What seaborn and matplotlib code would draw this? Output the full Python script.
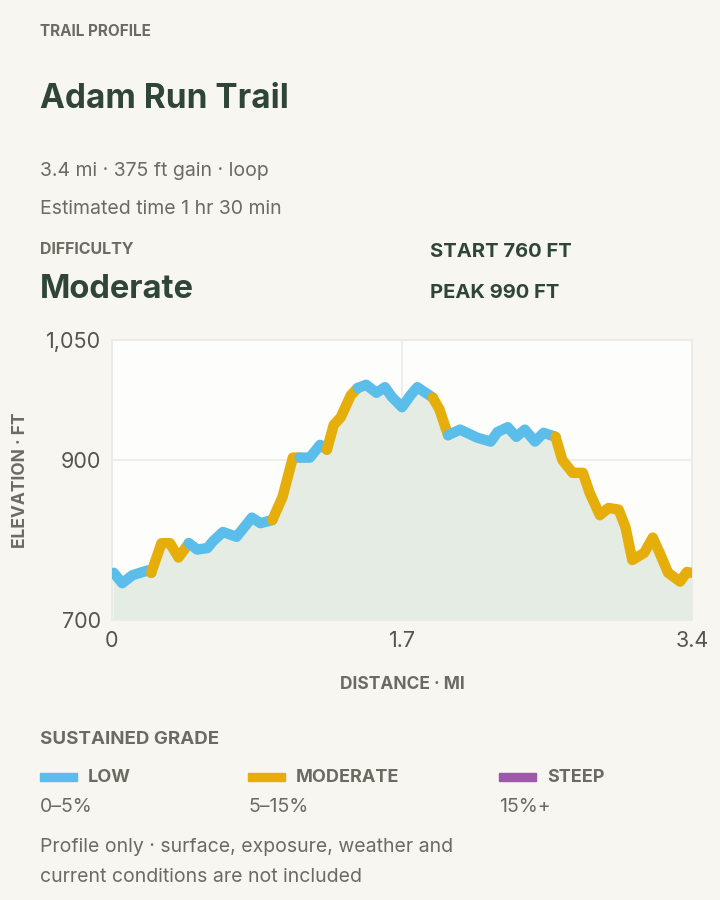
import matplotlib
matplotlib.use("Agg")
import matplotlib.pyplot as plt
import seaborn as sns
import pandas as pd
from matplotlib.patches import Rectangle

dist = [0.01,0.06,0.12,0.21,0.23,0.29,0.34,0.39,0.45,0.50,0.56,0.59,0.65,0.73,0.82,0.87,0.94,1.00,1.06,1.10,
        1.16,1.22,1.26,1.30,1.34,1.40,1.44,1.49,1.55,1.60,1.64,1.70,1.75,1.79,1.88,1.92,1.97,2.04,2.14,2.22,
        2.26,2.32,2.37,2.42,2.48,2.53,2.60,2.64,2.70,2.76,2.80,2.86,2.91,2.97,3.01,3.05,3.12,3.17,3.21,3.26,
        3.33,3.37,3.40]
elev = [759,746,756,762,759,796,796,778,796,788,790,798,810,804,828,821,825,854,903,903,
        903,919,913,944,953,981,990,994,984,991,979,966,981,991,978,963,931,938,928,923,
        935,941,929,938,923,934,929,900,884,884,859,831,840,838,816,775,784,803,784,759,
        748,760,759]
# grade category of the segment starting at each point
grade = (["low"]*4 + ["moderate"]*4 + ["low"]*8 + ["moderate"]*3 + ["low"]*3 + ["moderate"]*4
         + ["low"]*8 + ["moderate"]*2 + ["low"]*10 + ["moderate"]*17)
grade = grade[:len(dist)]
colors = {"low": "#5bbde9", "moderate": "#e6ae0a", "steep": "#9b59a8"}
legend_items = [("LOW", "0–5%", "low"), ("MODERATE", "5–15%", "moderate"), ("STEEP", "15%+", "steep")]

sns.set_theme(style="white")
plt.rcParams['font.family'] = ['Inter', 'DejaVu Sans']

BG = "#f7f6f1"
DARK = "#2f4538"
GRAY = "#6b6b63"
fig = plt.figure(figsize=(7.2, 9), dpi=100, facecolor=BG)
ax = fig.add_axes([112/720, 280/900, 580/720, 280/900])
ax.set_facecolor("#fdfdfb")

df = pd.DataFrame({"d": dist, "e": elev, "g": grade})
ax.fill_between(df.d, df.e, 700, color="#e4ece4", zorder=1)
i = 0
n = len(df)
while i < n - 1:
    j = i
    while j + 1 < n - 1 and df.g[j + 1] == df.g[i]:
        j += 1
    seg = df.iloc[i:j + 2]
    sns.lineplot(x=seg.d.values, y=seg.e.values, ax=ax, color=colors[df.g[i]], lw=7.5,
                 solid_capstyle="round", solid_joinstyle="round", sort=False, zorder=3)
    i = j + 1

ax.set_xlim(0, 3.4)
ax.set_ylim(700, 1050)
ax.set_xticks([0, 1.7, 3.4])
ax.set_xticklabels(["0", "1.7", "3.4"])
ax.set_yticks([700, 900, 1050])
ax.set_yticklabels(["700", "900", "1,050"])
ax.tick_params(colors="#555550", labelsize=15.5, length=0, pad=8)
ax.grid(True, color="#ebebe6", lw=1.2)
ax.set_axisbelow(True)
for s in ax.spines.values():
    s.set_color("#ebebe6")
ax.set_xlabel("DISTANCE · MI", fontsize=12.5, fontweight="bold", color=GRAY, labelpad=18)
ax.set_ylabel("ELEVATION · FT", fontsize=12.5, fontweight="bold", color=GRAY, labelpad=12)

def T(x, y, s, **kw):
    fig.text(x/720, 1 - y/900, s, va="center", ha="left", **kw)

T(40, 32, "TRAIL PROFILE", fontsize=11, fontweight="bold", color=GRAY)
T(40, 99, "Adam Run Trail", fontsize=24, fontweight="bold", color=DARK)
T(40, 171, "3.4 mi · 375 ft gain · loop", fontsize=14, color=GRAY)
T(40, 209, "Estimated time 1 hr 30 min", fontsize=14, color=GRAY)
T(40, 249, "DIFFICULTY", fontsize=11.5, fontweight="bold", color=GRAY)
T(40, 289, "Moderate", fontsize=23.5, fontweight="bold", color=DARK)
T(430, 252, "START 760 FT", fontsize=14.5, fontweight="bold", color=DARK)
T(430, 293, "PEAK 990 FT", fontsize=14.5, fontweight="bold", color=DARK)
T(40, 740, "SUSTAINED GRADE", fontsize=13.5, fontweight="bold", color=GRAY)
for x0, (lab, rng, key) in zip([40, 248, 499], legend_items):
    fig.patches.append(Rectangle((x0/720, 1 - 781/900), 37/720, 8/900, transform=fig.transFigure,
                                 color=colors[key]))
    T(x0 + 48, 778, lab, fontsize=13, fontweight="bold", color=GRAY)
    T(x0, 807, rng, fontsize=14, color=GRAY)
T(40, 847, "Profile only · surface, exposure, weather and", fontsize=14, color=GRAY)
T(40, 877, "current conditions are not included", fontsize=14, color=GRAY)

fig.savefig("out.png", dpi=100, facecolor=BG)
